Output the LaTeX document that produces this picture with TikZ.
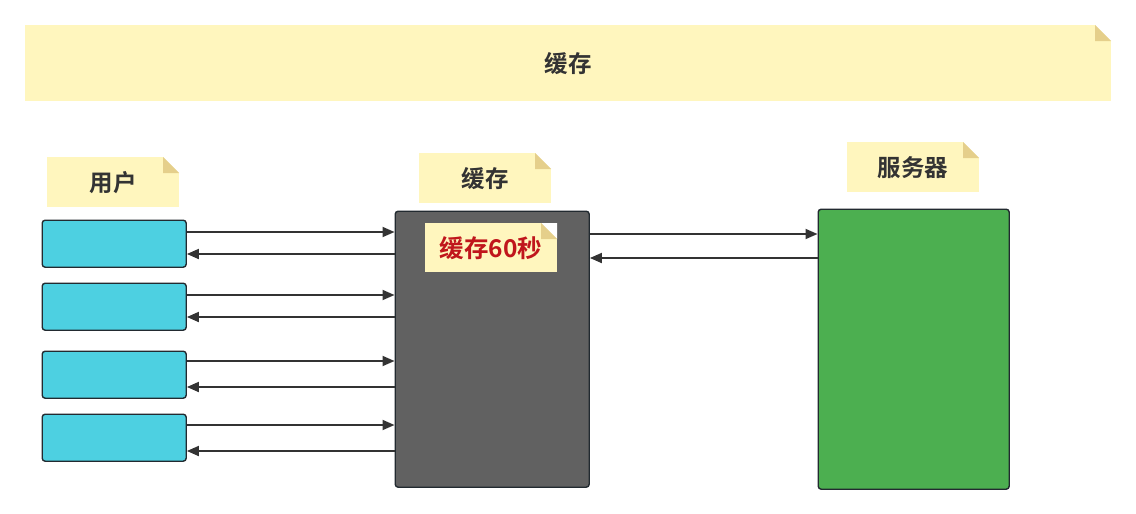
\documentclass[tikz,border=0pt]{standalone}
\usepackage{fontspec}
\newfontfamily\cjk{Noto Sans CJK SC}[BoldFont={Noto Sans CJK SC Bold}]
\usetikzlibrary{arrows.meta}
\definecolor{notefill}{HTML}{FFF6BE}
\definecolor{notefold}{HTML}{E5CF8B}
\definecolor{txt}{HTML}{333333}
\definecolor{userfill}{HTML}{4DD0E1}
\definecolor{cachefill}{HTML}{616161}
\definecolor{serverfill}{HTML}{4CAF50}
\definecolor{edge}{HTML}{222A30}
\definecolor{redtxt}{HTML}{C0161C}
\tikzset{
  note/.style={fill=notefill, inner sep=0pt, anchor=north west,
    font=\cjk\bfseries\fontsize{23.5}{23.5}\selectfont, text=txt,
    path picture={
      \fill[white] ([xshift=-16pt]path picture bounding box.north east) -- (path picture bounding box.north east) -- ([yshift=-16pt]path picture bounding box.north east) -- cycle;
      \fill[notefold] ([xshift=-16pt]path picture bounding box.north east) -- ([xshift=-16pt,yshift=-16pt]path picture bounding box.north east) -- ([yshift=-16pt]path picture bounding box.north east) -- cycle;
    }},
  blk/.style={draw=edge, line width=1.4pt, rounded corners=3pt, inner sep=0pt, anchor=north west},
  arr/.style={draw=txt, line width=1.8pt, -{Triangle[length=12pt,width=10pt]}},
}
\begin{document}
\begin{tikzpicture}[x=1pt,y=-1pt]
\useasboundingbox[fill=white] (0,0) rectangle (1136,514);
% notes
\node[note, minimum width=1086pt, minimum height=76pt] (top) at (25,25) {缓存};
\node[note, minimum width=132pt, minimum height=50pt] (nuser) at (47,157) {用户};
\node[note, minimum width=132pt, minimum height=50pt] (ncache) at (419,153) {缓存};
\node[note, minimum width=132pt, minimum height=50pt] (nserver) at (847,142) {服务器};
% blocks
\node[blk, fill=userfill, minimum width=144pt, minimum height=47pt] (u1) at (41.5,219.5) {};
\node[blk, fill=userfill, minimum width=144pt, minimum height=47pt] (u2) at (41.5,282.5) {};
\node[blk, fill=userfill, minimum width=144pt, minimum height=47pt] (u3) at (41.5,350.5) {};
\node[blk, fill=userfill, minimum width=144pt, minimum height=47pt] (u4) at (41.5,413.5) {};
\node[blk, fill=cachefill, minimum width=194pt, minimum height=276pt] (cache) at (394.5,210.5) {};
\node[blk, fill=serverfill, minimum width=191pt, minimum height=280pt] (server) at (817.5,208.5) {};
\node[note, minimum width=132pt, minimum height=49pt, text=redtxt, font=\cjk\bfseries\fontsize{24.5}{24.5}\selectfont] (ttl) at (425,223) {缓存60秒};
% connectors
\draw[arr] (u1.east |- 0,232) -- (cache.west |- 0,232);
\draw[arr] (cache.west |- 0,254) -- (u1.east |- 0,254);
\draw[arr] (u2.east |- 0,295) -- (cache.west |- 0,295);
\draw[arr] (cache.west |- 0,317) -- (u2.east |- 0,317);
\draw[arr] (u3.east |- 0,361) -- (cache.west |- 0,361);
\draw[arr] (cache.west |- 0,387) -- (u3.east |- 0,387);
\draw[arr] (u4.east |- 0,425) -- (cache.west |- 0,425);
\draw[arr] (cache.west |- 0,451) -- (u4.east |- 0,451);
\draw[arr] (cache.east |- 0,234) -- (server.west |- 0,234);
\draw[arr] (server.west |- 0,258) -- (cache.east |- 0,258);
\end{tikzpicture}
\end{document}
